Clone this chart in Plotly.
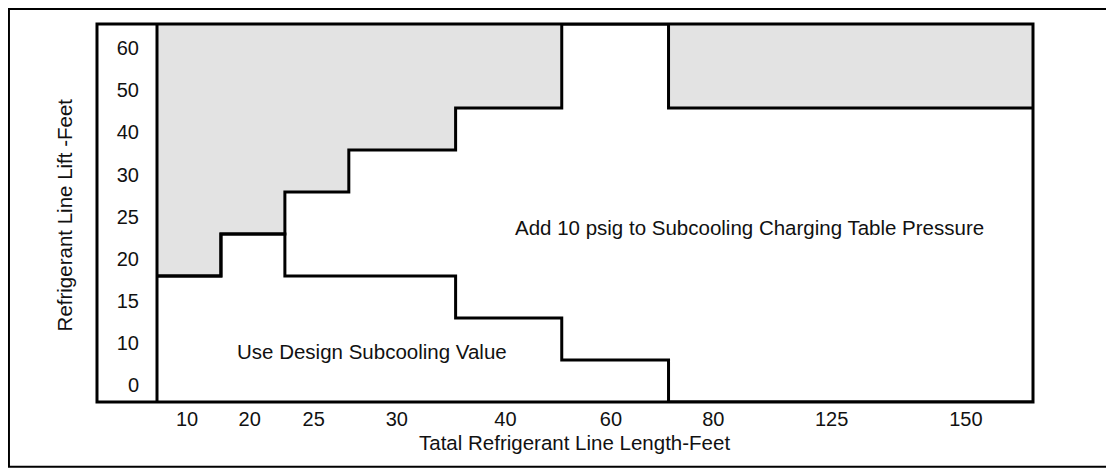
import plotly.graph_objects as go

# x axis: total line length columns (axis unit = width of a narrow column)
length_labels = ["10", "20", "25", "30", "40", "60", "80", "125", "150"]
length_tick_pos = [0.47, 1.45, 2.45, 3.75, 5.45, 7.1, 8.7, 10.55, 12.65]
length_edges = [0, 1, 2, 3, 4.67, 6.33, 8, 13.7]

# y axis: line lift rows
lift_labels = ["0", "10", "15", "20", "25", "30", "40", "50", "60"]
lift_tick_pos = [0.4, 1.4, 2.4, 3.4, 4.4, 5.4, 6.42, 7.42, 8.43]
lift_rows = 9

# per column: row where "Use Design Subcooling" zone ends,
# and row where the shaded zone starts
design_top = [3, 4, 3, 3, 2, 1, 0]
shaded_bottom = [3, 4, 5, 6, 7, 9, 7]

FONT = "Liberation Sans, Arial, sans-serif"
LINE_W = 3
TXT = dict(size=20.5, color="#111")

fig = go.Figure()

# shaded zone
fig.add_trace(
    go.Scatter(
        x=length_edges + [length_edges[-1], length_edges[0]],
        y=shaded_bottom + [shaded_bottom[-1], lift_rows, lift_rows],
        mode="lines",
        line=dict(width=0, shape="hv"),
        fill="toself",
        fillcolor="#e3e3e3",
        hoverinfo="skip",
        showlegend=False,
    )
)

# zone boundaries as step lines
for levels in (shaded_bottom, design_top):
    fig.add_trace(
        go.Scatter(
            x=length_edges,
            y=levels + [levels[-1]],
            mode="lines",
            line=dict(color="black", width=LINE_W, shape="hv"),
            hoverinfo="skip",
            showlegend=False,
        )
    )

fig.add_annotation(
    text="Use Design Subcooling Value",
    x=3.355, y=1.2, xref="x", yref="y",
    showarrow=False, font=TXT,
)
fig.add_annotation(
    text="Add 10 psig to Subcooling Charging Table Pressure",
    x=9.27, y=4.16, xref="x", yref="y",
    showarrow=False, font=TXT,
)

# axis titles
fig.add_annotation(
    text="Tatal Refrigerant Line Length-Feet",
    x=0.4766, y=-0.108, xref="paper", yref="paper",
    xanchor="center", yanchor="middle",
    showarrow=False, font=TXT,
)
fig.add_annotation(
    text="Refrigerant Line Lift -Feet",
    x=-0.106, y=0.494, xref="paper", yref="paper",
    xanchor="center", yanchor="middle",
    textangle=-90,
    showarrow=False, font=TXT,
)

# inner frame (including the tick-label column) and the data-area left edge
fig.add_shape(
    type="rect", xref="paper", yref="paper",
    x0=-0.0685, x1=1, y0=0, y1=1,
    line=dict(color="black", width=LINE_W),
)
fig.add_shape(
    type="line", xref="paper", yref="paper",
    x0=0, x1=0, y0=0, y1=1,
    line=dict(color="black", width=LINE_W),
)
# outer border, kept just inside the figure edge (right side runs off the page)
fig.add_shape(
    type="rect", xref="paper", yref="paper",
    x0=-0.169, x1=1.2, y0=-0.171, y1=1.0397,
    line=dict(color="black", width=2),
)

fig.update_xaxes(
    range=[length_edges[0], length_edges[-1]],
    tickvals=length_tick_pos,
    ticktext=length_labels,
    ticks="",
    ticklabelstandoff=3,
    showgrid=False,
    zeroline=False,
    showline=False,
    tickfont=dict(size=20, color="#111"),
)
fig.update_yaxes(
    range=[0, lift_rows],
    tickvals=lift_tick_pos,
    ticktext=lift_labels,
    ticks="",
    ticklabelstandoff=17,
    showgrid=False,
    zeroline=False,
    showline=False,
    tickfont=dict(size=20, color="#111"),
)

# page body adds an 8px offset, so margins are shifted to compensate
fig.update_layout(
    width=1114,
    height=469,
    margin=dict(l=149, r=89, t=16, b=75),
    plot_bgcolor="white",
    paper_bgcolor="white",
    font=dict(family=FONT, size=20, color="#111"),
)

fig.write_html("out.html")
